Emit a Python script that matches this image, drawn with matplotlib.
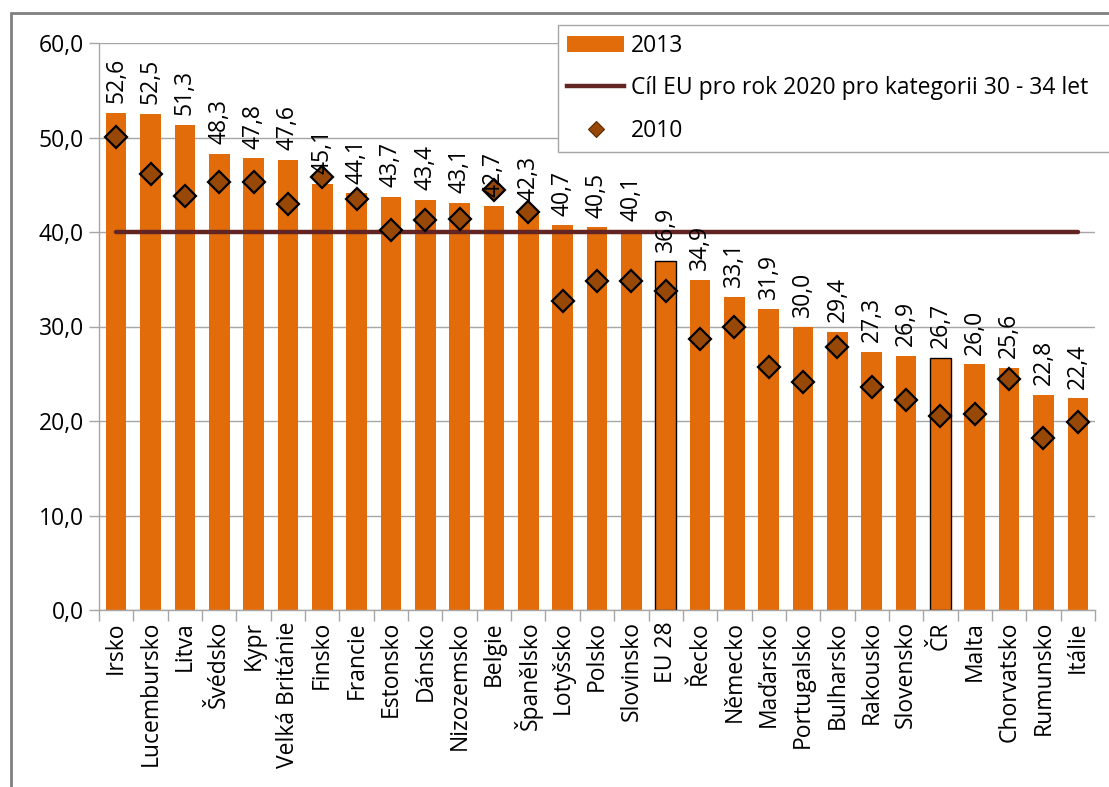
import matplotlib
matplotlib.use("Agg")
import matplotlib.pyplot as plt
from matplotlib.patches import Patch, Rectangle
from matplotlib.lines import Line2D

plt.rcParams['font.family'] = ['Open Sans', 'DejaVu Sans']

countries = ["Irsko", "Lucembursko", "Litva", "Švédsko", "Kypr", "Velká Británie",
             "Finsko", "Francie", "Estonsko", "Dánsko", "Nizozemsko", "Belgie",
             "Španělsko", "Lotyšsko", "Polsko", "Slovinsko", "EU 28", "Řecko",
             "Německo", "Maďarsko", "Portugalsko", "Bulharsko", "Rakousko",
             "Slovensko", "ČR", "Malta", "Chorvatsko", "Rumunsko", "Itálie"]
vals_2013 = [52.6, 52.5, 51.3, 48.3, 47.8, 47.6, 45.1, 44.1, 43.7, 43.4, 43.1, 42.7,
             42.3, 40.7, 40.5, 40.1, 36.9, 34.9, 33.1, 31.9, 30.0, 29.4, 27.3,
             26.9, 26.7, 26.0, 25.6, 22.8, 22.4]
vals_2010 = [50.1, 46.1, 43.8, 45.3, 45.3, 43.0, 45.8, 43.5, 40.2, 41.3, 41.4, 44.4,
             42.1, 32.7, 34.8, 34.8, 33.8, 28.7, 29.9, 25.7, 24.1, 27.8, 23.6,
             22.2, 20.5, 20.7, 24.4, 18.2, 19.9]
target_eu = 40.0
highlight = ["EU 28", "ČR"]

orange = "#E36C0A"
brown = "#974806"
target_col = "#632523"
grid_col = "#A6A6A6"
fs = 16.5

fig = plt.figure(figsize=(11.09, 7.87), dpi=100)
ax = fig.add_axes([99 / 1109, 1 - 610 / 787, (1095 - 99) / 1109, (610 - 43) / 787])

x = list(range(len(countries)))
bars = ax.bar(x, vals_2013, width=0.6, color=orange, zorder=2)
for b, c in zip(bars, countries):
    if c in highlight:
        b.set_edgecolor("black")
        b.set_linewidth(1.0)

ax.plot([x[0], x[-1]], [target_eu, target_eu], color=target_col, lw=3.2,
        solid_capstyle="round", zorder=3)
ax.plot(x, vals_2010, linestyle="none", marker="D", markersize=11,
        markerfacecolor=brown, markeredgecolor="black", markeredgewidth=1.6, zorder=4)

for xi, v in zip(x, vals_2013):
    ax.annotate(f"{v:.1f}".replace(".", ","), (xi, v), xytext=(0, 7),
                textcoords="offset points", rotation=90, ha="center", va="bottom",
                fontsize=fs, color="black", zorder=5)

ax.set_xlim(-0.5, len(countries) - 0.5)
ax.set_ylim(0, 60)
ax.set_yticks(range(0, 61, 10))
ax.set_yticklabels([f"{t},0" for t in range(0, 61, 10)], fontsize=fs)
ax.yaxis.grid(True, color=grid_col, lw=1.0, zorder=0)
ax.set_axisbelow(True)

ax.set_xticks(x)
ax.set_xticklabels(countries, rotation=90, fontsize=fs, va="top", ha="center")
ax.set_xticks([i - 0.5 for i in range(len(countries) + 1)], minor=True)
ax.tick_params(axis="x", which="major", length=0, pad=8)
ax.tick_params(axis="x", which="minor", length=8, color=grid_col, width=1)
ax.tick_params(axis="y", length=7, color=grid_col, width=1, pad=4)

for s in ["top", "right"]:
    ax.spines[s].set_visible(False)
for s in ["left", "bottom"]:
    ax.spines[s].set_color(grid_col)
    ax.spines[s].set_linewidth(1.0)

handles = [
    Patch(facecolor=orange, edgecolor="none"),
    Line2D([0], [0], color=target_col, lw=3.2),
    Line2D([0], [0], linestyle="none", marker="D", markersize=8,
           markerfacecolor=brown, markeredgecolor="#5a2a00", markeredgewidth=0.8),
]
labels = ["2013", "Cíl EU pro rok 2020 pro kategorii 30 - 34 let", "2010"]
# legend box runs past the right edge of the picture, as in the original
leg = fig.legend(handles, labels, loc="upper left", mode="expand",
                 bbox_to_anchor=(558 / 1109, 1 - 25 / 787, 0.52, 0),
                 bbox_transform=fig.transFigure,
                 fontsize=fs, frameon=True, fancybox=False, framealpha=1,
                 edgecolor=grid_col, handlelength=2.5, handletextpad=0.3,
                 labelspacing=0.8, borderpad=0.4, borderaxespad=0)
leg.get_frame().set_linewidth(1.0)

# outer chart frame (left and top edges visible)
fig.add_artist(Rectangle((11 / 1109, -0.1), 1.2, 1 - 13 / 787 + 0.1,
                         transform=fig.transFigure, fill=False,
                         edgecolor="#808080", lw=2.0, zorder=0))

fig.savefig("out.png", dpi=100)
